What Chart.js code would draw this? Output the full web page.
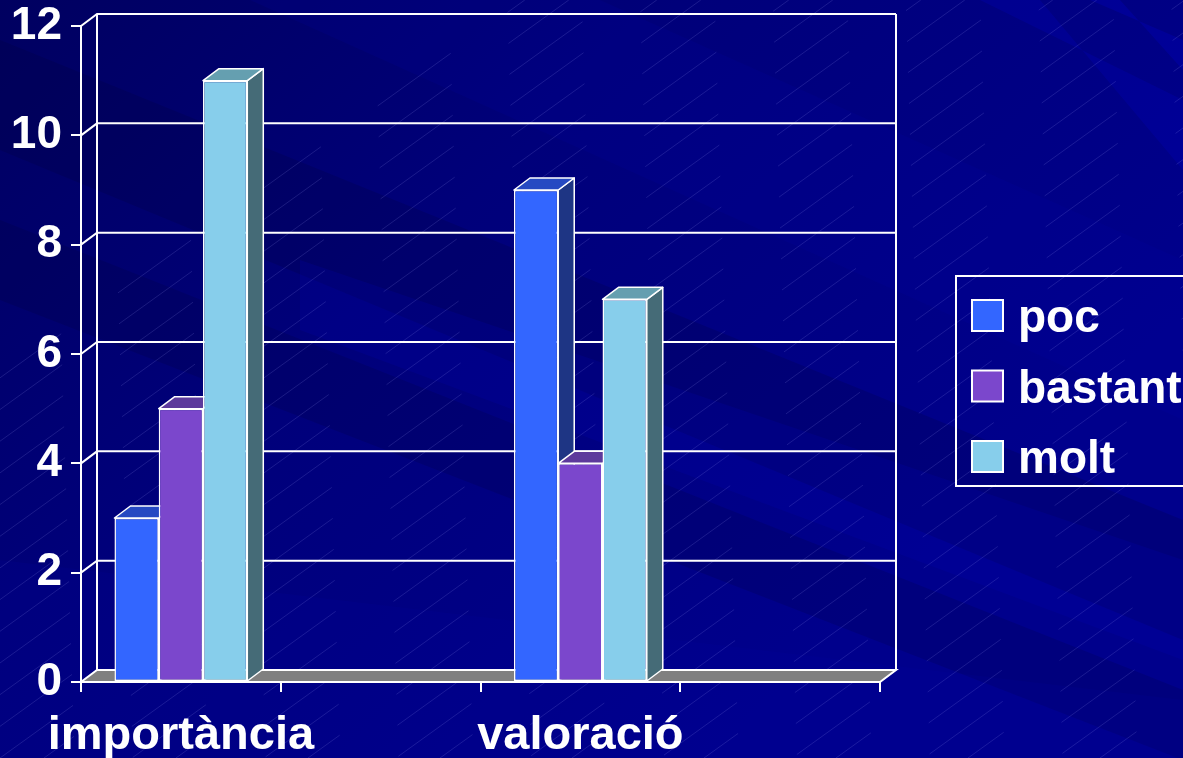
<!DOCTYPE html>
<html>
<head>
<meta charset="utf-8">
<script src="https://cdn.jsdelivr.net/npm/chart.js@4.4.1/dist/chart.umd.min.js"></script>
<style>
html,body{margin:0;padding:0;background:#000080;overflow:hidden}
canvas{display:block}
</style>
</head>
<body>
<canvas id="c" width="1183" height="758"></canvas>
<script>
// ---- data ----
const categories = ['importància', '', 'valoració', ''];
const seriesNames = ['poc', 'bastant', 'molt'];
const pocValues = [3, null, 9, null];
const bastantValues = [5, null, 4, null];
const moltValues = [11, null, 7, null];
const yTickValues = [0, 2, 4, 6, 8, 10, 12];

// ---- styles ----
const frontColors = ['#3366FF', '#7B47CC', '#87CEEB'];
const topColors = ['#2649C2', '#5D3A9C', '#659FB0'];
const sideColors = ['#1E3584', '#4B2F80', '#456B77'];
const DX = 16, DY = -12;
const FONT = '"Liberation Sans", Arial, sans-serif';

function drawBackground(ctx, w, h) {
  const g = ctx.createLinearGradient(0, 0, w * 0.6, h);
  g.addColorStop(0, '#000060');
  g.addColorStop(0.45, '#00007A');
  g.addColorStop(1, '#00008C');
  ctx.fillStyle = g;
  ctx.fillRect(0, 0, w, h);
  const poly = (pts, color) => {
    ctx.beginPath();
    ctx.moveTo(pts[0][0], pts[0][1]);
    for (let i = 1; i < pts.length; i++) ctx.lineTo(pts[i][0], pts[i][1]);
    ctx.closePath();
    ctx.fillStyle = color;
    ctx.fill();
  };
  // broad diagonal bands (down to the right)
  poly([[0, 40], [0, 150], [1183, 640], [1183, 520]], 'rgba(0,0,50,0.18)');
  poly([[0, 220], [0, 300], [1183, 760], [1183, 690]], 'rgba(0,0,40,0.15)');
  poly([[250, 0], [600, 0], [1183, 260], [1183, 420]], 'rgba(0,0,170,0.15)');
  poly([[300, 260], [1183, 560], [1183, 660], [300, 330]], 'rgba(0,0,190,0.16)');
  poly([[0, 560], [1183, 700], [1183, 758], [0, 758]], 'rgba(0,0,160,0.15)');
  // steep streaks top right
  poly([[980, 0], [1040, 0], [1183, 170], [1183, 100]], 'rgba(0,0,200,0.22)');
  poly([[1090, 0], [1120, 0], [1183, 70], [1183, 40]], 'rgba(0,0,220,0.22)');
  // hatch lines
  ctx.save();
  ctx.strokeStyle = 'rgba(170,170,255,0.20)';
  ctx.lineWidth = 0.8;
  ctx.setLineDash([90, 70]);
  for (let k = -12; k < 60; k++) {
    const x0 = k * 44;
    ctx.lineDashOffset = (k * 53) % 160;
    ctx.beginPath();
    ctx.moveTo(x0, h);
    ctx.lineTo(x0 + h / 0.72, 0);
    ctx.stroke();
  }
  ctx.restore();
}

const threeD = {
  id: 'threeD',
  beforeDraw(chart) {
    const {ctx, width, height} = chart;
    const xs = chart.scales.x, ys = chart.scales.y;
    ctx.save();
    drawBackground(ctx, width, height);
    ctx.strokeStyle = '#FFFFFF';
    ctx.lineWidth = 2;
    const L = xs.left, R = xs.right;
    const yTop = ys.getPixelForValue(yTickValues[yTickValues.length - 1]);
    const y0 = ys.getPixelForValue(0);
    yTickValues.forEach(v => {
      if (v === 0) return;
      const py = ys.getPixelForValue(v);
      ctx.beginPath();
      ctx.moveTo(L, py);
      ctx.lineTo(L + DX, py + DY);
      ctx.lineTo(R + DX, py + DY);
      ctx.stroke();
    });
    ctx.beginPath();
    ctx.moveTo(L + DX, yTop + DY); ctx.lineTo(L + DX, y0 + DY);
    ctx.moveTo(R + DX, yTop + DY); ctx.lineTo(R + DX, y0 + DY);
    ctx.stroke();
    // floor
    ctx.beginPath();
    ctx.moveTo(L, y0); ctx.lineTo(R, y0); ctx.lineTo(R + DX, y0 + DY); ctx.lineTo(L + DX, y0 + DY);
    ctx.closePath();
    ctx.fillStyle = '#808080';
    ctx.fill();
    ctx.stroke();
    ctx.restore();
  },
  beforeDatasetsDraw(chart) {
    const ctx = chart.ctx;
    ctx.save();
    ctx.strokeStyle = '#FFFFFF';
    ctx.lineWidth = 1.5;
    ctx.lineJoin = 'round';
    for (let i = 0; i < chart.data.labels.length; i++) {
      chart.data.datasets.forEach((ds, d) => {
        const v = ds.data[i];
        if (v === null || v === undefined) return;
        const el = chart.getDatasetMeta(d).data[i];
        const p = el.getProps(['x', 'y', 'base', 'width'], true);
        const x0 = p.x - p.width / 2, x1 = p.x + p.width / 2;
        // side
        ctx.beginPath();
        ctx.moveTo(x1, p.y); ctx.lineTo(x1 + DX, p.y + DY); ctx.lineTo(x1 + DX, p.base + DY); ctx.lineTo(x1, p.base);
        ctx.closePath();
        ctx.fillStyle = sideColors[d];
        ctx.fill(); ctx.stroke();
        // top
        ctx.beginPath();
        ctx.moveTo(x0, p.y); ctx.lineTo(x1, p.y); ctx.lineTo(x1 + DX, p.y + DY); ctx.lineTo(x0 + DX, p.y + DY);
        ctx.closePath();
        ctx.fillStyle = topColors[d];
        ctx.fill(); ctx.stroke();
      });
    }
    ctx.restore();
  },
  afterDraw(chart) {
    const ctx = chart.ctx;
    ctx.save();
    ctx.strokeStyle = '#FFFFFF';
    ctx.lineWidth = 2;
    ctx.strokeRect(956, 276, 400, 210);
    ctx.font = 'bold 46px ' + FONT;
    ctx.textBaseline = 'alphabetic';
    ctx.textAlign = 'left';
    chart.data.datasets.forEach((ds, d) => {
      const sy = 300 + d * 70.5;
      ctx.fillStyle = ds.backgroundColor;
      ctx.fillRect(972, sy, 31, 31);
      ctx.strokeRect(972, sy, 31, 31);
      ctx.fillStyle = '#FFFFFF';
      ctx.fillText(ds.label, 1018, sy + 32);
    });
    ctx.restore();
  }
};

const valueSets = [pocValues, bastantValues, moltValues];

new Chart(document.getElementById('c'), {
  type: 'bar',
  data: {
    labels: categories,
    datasets: seriesNames.map((name, i) => ({
      label: name,
      data: valueSets[i],
      backgroundColor: frontColors[i],
      borderColor: '#FFFFFF',
      borderWidth: 1.5,
      borderSkipped: false,
      categoryPercentage: 0.665,
      barPercentage: 1.0
    }))
  },
  options: {
    responsive: false,
    devicePixelRatio: 1,
    animation: false,
    layout: { padding: { top: 26, right: 303, left: 0, bottom: 0 } },
    plugins: { legend: { display: false }, tooltip: { enabled: false } },
    scales: {
      x: {
        afterFit: s => { s.height = 76; s.paddingLeft = 0; s.paddingRight = 0; },
        grid: { offset: true, drawOnChartArea: false, drawTicks: true, tickLength: 10, color: '#FFFFFF', lineWidth: 2 },
        border: { display: true, color: '#FFFFFF', width: 2 },
        ticks: { color: '#FFFFFF', font: { family: FONT, size: 47, weight: 'bold', lineHeight: 1.2 }, padding: 16, maxRotation: 0, autoSkip: false }
      },
      y: {
        min: 0, max: 12,
        afterFit: s => { s.width = 81; s.paddingTop = 0; s.paddingBottom = 0; },
        afterBuildTicks: s => { s.ticks = yTickValues.map(v => ({ value: v })); },
        grid: { drawOnChartArea: false, drawTicks: true, tickLength: 10, color: '#FFFFFF', lineWidth: 2 },
        border: { display: true, color: '#FFFFFF', width: 2 },
        ticks: { color: '#FFFFFF', font: { family: FONT, size: 46, weight: 'bold', lineHeight: 1 }, padding: 9 }
      }
    }
  },
  plugins: [threeD]
});
</script>
</body>
</html>
